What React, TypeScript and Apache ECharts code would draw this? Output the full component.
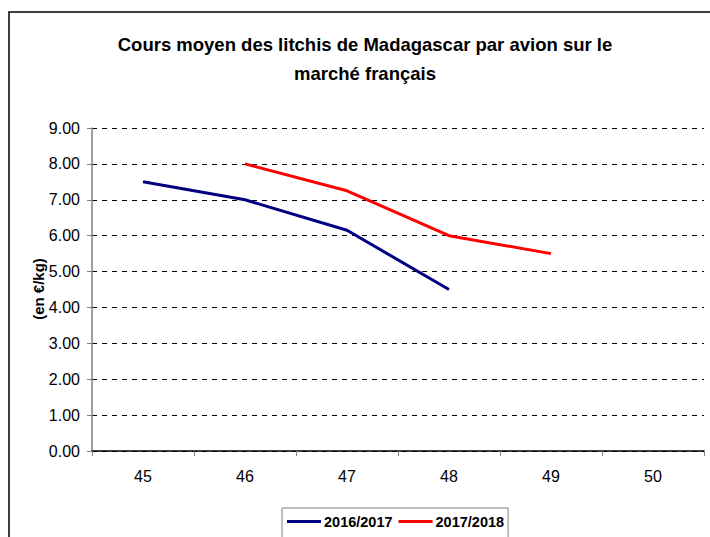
import React, { useEffect, useRef } from "react";
import * as echarts from "echarts";

const weeks = ["45", "46", "47", "48", "49", "50"];
const season1617 = [7.5, 7.0, 6.15, 4.5, null, null];
const season1718 = [null, 8.0, 7.25, 6.0, 5.5, null];
const seriesNames = ["2016/2017", "2017/2018"];
const titleText = "Cours moyen des litchis de Madagascar par avion sur le\nmarché français";
const yName = "(en €/kg)";

export default function App() {
  const ref = useRef<HTMLDivElement>(null);
  useEffect(() => {
    if (!ref.current) return;
    const chart = echarts.init(ref.current, null, { renderer: "svg" });
    const font = "'Liberation Sans', Arial, sans-serif";
    chart.setOption({
      animation: false,
      backgroundColor: "#ffffff",
      textStyle: { fontFamily: font },
      grid: { left: 92, right: 6, top: 128, bottom: 86, containLabel: false },
      graphic: [
        {
          type: "rect",
          shape: { x: 9, y: 12, width: 720, height: 600 },
          style: { fill: "none", stroke: "#000", lineWidth: 1.5 },
          silent: true,
        },
        {
          type: "text",
          x: 365,
          y: 59,
          style: {
            text: titleText,
            font: `bold 18.5px ${font}`,
            fill: "#000",
            textAlign: "center",
            textVerticalAlign: "middle",
            lineHeight: 29,
          },
        },
        {
          type: "text",
          x: 38,
          y: 289,
          rotation: Math.PI / 2,
          style: {
            text: yName,
            font: `bold 15px ${font}`,
            fill: "#000",
            textAlign: "center",
            textVerticalAlign: "middle",
          },
        },
      ],
      legend: {
        left: 282,
        top: 508,
        data: seriesNames,
        orient: "horizontal",
        icon: "rect",
        borderColor: "#808080",
        borderWidth: 1,
        padding: [6, 4, 20, 5],
        itemGap: 6,
        itemWidth: 34,
        itemHeight: 3,
        textStyle: { fontFamily: font, fontWeight: "bold", fontSize: 14.5, color: "#000", padding: [0, 0, 0, -2] },
      },
      xAxis: {
        type: "category",
        data: weeks,
        boundaryGap: true,
        axisLine: { lineStyle: { color: "#000", width: 1.5 } },
        axisTick: { show: true, length: 5, lineStyle: { color: "#808080" } },
        axisLabel: { color: "#000", fontSize: 16, margin: 17, fontFamily: font },
        splitLine: { show: false },
      },
      yAxis: {
        type: "value",
        min: 0,
        max: 9,
        interval: 1,
        axisLine: { show: true, lineStyle: { color: "#808080", width: 1.5 } },
        axisTick: { show: true, length: 5, lineStyle: { color: "#808080" } },
        axisLabel: {
          color: "#000",
          fontSize: 16,
          margin: 12,
          fontFamily: font,
          formatter: (v: number) => v.toFixed(2),
        },
        splitLine: { show: true, lineStyle: { color: "#000", type: [5, 5], width: 1 } },
      },
      series: [
        {
          name: seriesNames[0],
          type: "line",
          data: season1617,
          symbol: "none",
          lineStyle: { color: "#000080", width: 3 },
          itemStyle: { color: "#000080" },
        },
        {
          name: seriesNames[1],
          type: "line",
          data: season1718,
          symbol: "none",
          lineStyle: { color: "#ff0000", width: 3 },
          itemStyle: { color: "#ff0000" },
        },
      ],
    });
    return () => chart.dispose();
  }, []);
  return (
    <div
      ref={ref}
      style={{ position: "fixed", left: 0, top: 0, width: 710, height: 537, background: "#fff" }}
    />
  );
}
